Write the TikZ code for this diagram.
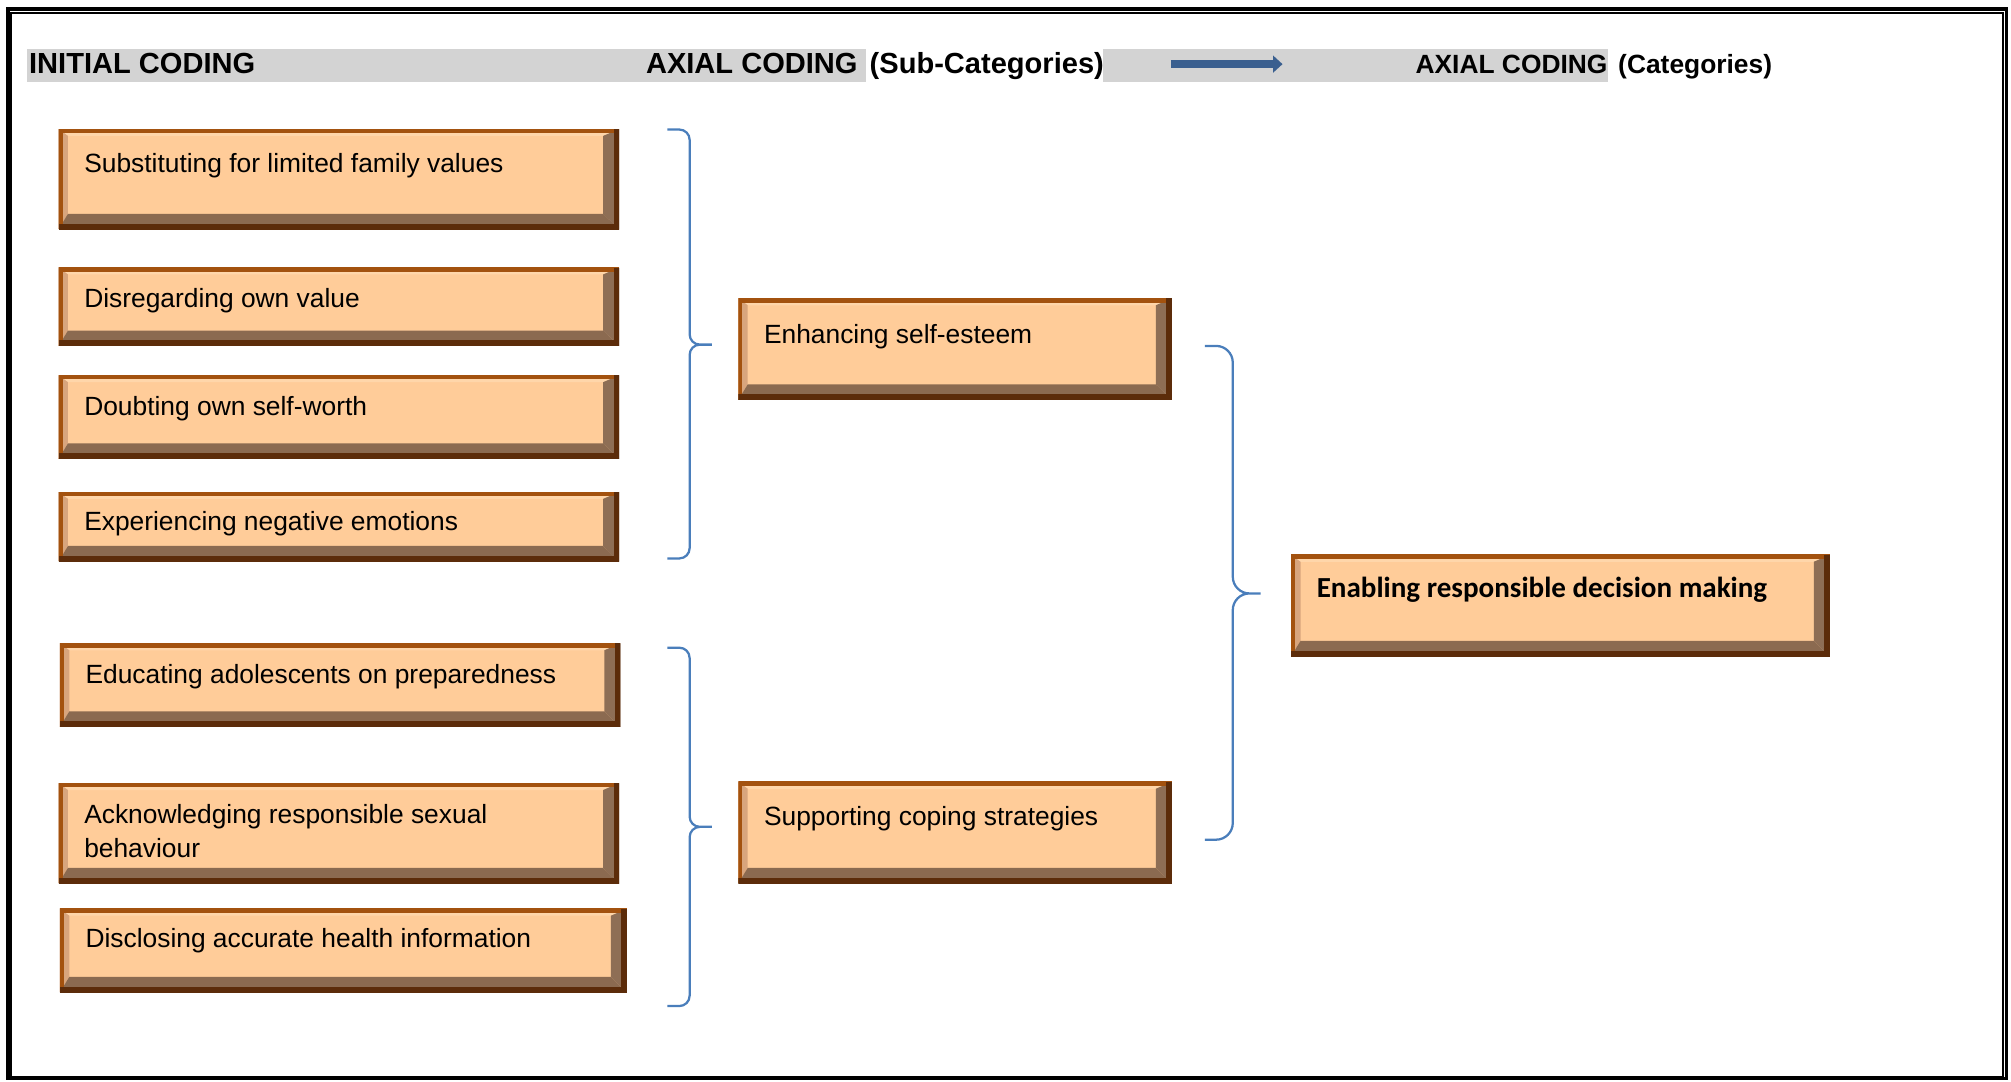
\documentclass[tikz,border=0pt]{standalone}
\usepackage{fontspec}
\setmainfont{Liberation Sans}
\newfontfamily\calibrifont{Carlito}
\usetikzlibrary{arrows.meta,positioning,calc}
\definecolor{boxfill}{HTML}{FFCC99}
\definecolor{bevtop}{HTML}{FFD6AA}
\definecolor{bevleft}{HTML}{D8A57D}
\definecolor{bevright}{HTML}{8E6E55}
\definecolor{bevbottom}{HTML}{8B6A50}
\definecolor{edgelight}{HTML}{A3520F}
\definecolor{edgedark}{HTML}{5C2C0A}
\definecolor{bandgray}{HTML}{D3D3D3}
\definecolor{arrowblue}{HTML}{3A5F8F}
\definecolor{braceblue}{HTML}{4A7EBB}
\newcommand{\cbfont}{\fontsize{5.85}{7.7}\selectfont}
\newcommand{\hdfont}{\bfseries\fontsize{6.45}{8}\selectfont}
\newcommand{\hdsmallfont}{\bfseries\fontsize{5.85}{8}\selectfont}
\newcommand{\codebrace}[4][0.08]{%
    \draw[braceblue, line width=0.5pt, rounded corners=#1cm]
        let \p1=(#2), \p2=(#3), \p3=(#4), \n1={(\x1+\x2)/2} in
        (\p1) -- (\n1,\y1) -- (\n1,\y2) -- (\p2)
        (\p2) -- (\n1,\y2) -- (\n1,\y3) -- (\p3);}

\begin{document}
\begin{tikzpicture}[
    cbox/.style n args={3}{fill=boxfill, anchor=north west, inner xsep=0.2cm, inner ysep=0pt,
        text width={#1cm-0.4cm}, text height=#3cm, text depth={#2cm-#3cm}, align=flush left, font=\cbfont,
        path picture={
            \coordinate (pnw) at (path picture bounding box.north west);
            \coordinate (pne) at (path picture bounding box.north east);
            \coordinate (pse) at (path picture bounding box.south east);
            \coordinate (psw) at (path picture bounding box.south west);
            \coordinate (qnw) at ([shift={(0.073,-0.053)}]pnw);
            \coordinate (qne) at ([shift={(-0.125,-0.053)}]pne);
            \coordinate (qse) at ([shift={(-0.125,0.12)}]pse);
            \coordinate (qsw) at ([shift={(0.073,0.12)}]psw);
            \fill[bevtop] (pnw) -- (pne) -- (qne) -- (qnw) -- cycle;
            \fill[bevleft] (pnw) -- (psw) -- (qsw) -- (qnw) -- cycle;
            \fill[bevright] (pne) -- (pse) -- (qse) -- (qne) -- cycle;
            \fill[bevbottom] (psw) -- (pse) -- (qse) -- (qsw) -- cycle;
            \draw[edgelight, line width=1.8pt] (psw) -- (pnw) -- (pne);
            \draw[edgedark, line width=2.4pt] (pne) -- (pse) -- (psw);
        }},
    headtext/.style={font=\hdfont, inner sep=0pt, anchor=base west}]

    \useasboundingbox (0,0) rectangle (15.68,-8.43);
    \draw[line width=0.7pt] (0.062,-0.07) rectangle (15.647,-8.41);
    \draw[line width=0.45pt] (0.088,-0.104) rectangle (15.615,-8.40);

    \fill[bandgray] (0.21,-0.38) rectangle (6.75,-0.642);
    \fill[bandgray] (8.60,-0.38) rectangle (12.54,-0.642);
    \node[headtext] (initial) at (0.22,-0.575) {INITIAL CODING};
    \node[headtext] (axialsub) at (5.03,-0.575) {AXIAL CODING};
    \node[headtext] (subcat) at ([xshift=0.08cm]axialsub.base east) {(Sub-Categories)};
    \node[headtext, font=\hdsmallfont] (axialcat) at (11.03,-0.575) {AXIAL CODING};
    \node[headtext, font=\hdsmallfont] (cat) at ([xshift=0.07cm]axialcat.base east) {(Categories)};
    \coordinate (arrowstart) at (9.13,-0.50);
    \coordinate (arrowend) at (10.00,-0.50);
    \draw[arrowblue, line width=1.85pt, -{Triangle[length=2.1pt, width=3.7pt]}] (arrowstart) -- (arrowend);

    \node[cbox={4.37}{0.78}{0.34}] (sub1) at (0.45,-1.00) {Substituting for limited family values};
    \node[cbox={4.37}{0.61}{0.31}] (sub2) at (0.45,-2.08) {Disregarding own value};
    \node[cbox={4.37}{0.65}{0.31}] (sub3) at (0.45,-2.92) {Doubting own self-worth};
    \node[cbox={4.37}{0.54}{0.30}] (sub4) at (0.45,-3.83) {Experiencing negative emotions};
    \node[cbox={4.37}{0.65}{0.31}] (sub5) at (0.46,-5.01) {Educating adolescents on preparedness};
    \node[cbox={4.37}{0.78}{0.31}] (sub6) at (0.45,-6.10) {Acknowledging responsible sexual behaviour};
    \node[cbox={4.42}{0.65}{0.30}] (sub7) at (0.46,-7.08) {Disclosing accurate health information};

    \node[cbox={3.38}{0.79}{0.35}] (selfesteem) at (5.75,-2.32) {Enhancing self-esteem};
    \node[cbox={3.38}{0.79}{0.34}] (coping) at (5.75,-6.09) {Supporting coping strategies};
    \node[cbox={4.20}{0.79}{0.33}, font=\calibrifont\bfseries\fontsize{6.45}{8}\selectfont] (decision) at (10.06,-4.32) {Enabling responsible decision making};

    \codebrace{[shift={(0.37,-0.01)}]sub1.north east}{[shift={(-0.20,0.035)}]selfesteem.west}{[shift={(0.37,0.03)}]sub4.south east}
    \codebrace{[shift={(0.36,-0.04)}]sub5.north east}{[shift={(-0.20,0.045)}]coping.west}{[shift={(0.31,-0.10)}]sub7.south east}
    \codebrace[0.13]{[shift={(0.25,0.025)}]selfesteem.east}{[shift={(-0.23,0.095)}]decision.west}{[shift={(0.25,-0.055)}]coping.east}
\end{tikzpicture}
\end{document}
